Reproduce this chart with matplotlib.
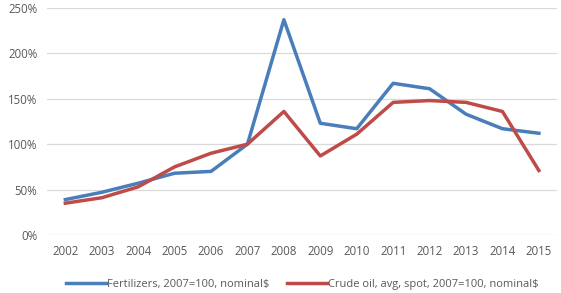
import matplotlib
matplotlib.use("Agg")
import matplotlib.pyplot as plt
import numpy as np

years = ["2002", "2003", "2004", "2005", "2006", "2007", "2008",
         "2009", "2010", "2011", "2012", "2013", "2014", "2015"]
fertilizers = [39, 47, 57, 68, 70, 100, 237, 123, 117, 167, 161, 133, 117, 112]
crude_oil = [35, 41, 53, 75, 90, 100, 136, 87, 111, 146, 148, 146, 136, 71]

plt.rcParams['font.family'] = ['Open Sans', 'DejaVu Sans']
text_color = "#595959"

fig = plt.figure(figsize=(5.61, 2.93), dpi=100)
ax = fig.add_axes([0.084, 0.198, 0.909, 0.775])

x = np.arange(len(years))
ax.plot(x, np.array(fertilizers) / 100, color="#4a7ebb", lw=2.5,
        label="Fertilizers, 2007=100, nominal$")
ax.plot(x, np.array(crude_oil) / 100, color="#be4b48", lw=2.5,
        label="Crude oil, avg, spot, 2007=100, nominal$")

ax.set_xlim(-0.5, len(years) - 0.5)
ax.set_ylim(0, 2.5)
ax.set_yticks(np.arange(0, 2.51, 0.5))
ax.set_yticklabels(["%d%%" % round(v * 100) for v in np.arange(0, 2.51, 0.5)])
ax.set_xticks(x)
ax.set_xticklabels(years)
ax.grid(axis="y", color="#d9d9d9", lw=0.9)
ax.set_axisbelow(True)
for s in ax.spines.values():
    s.set_visible(False)
ax.tick_params(length=0, colors=text_color, labelsize=8.3, pad=7)

ax.legend(loc="upper center", bbox_to_anchor=(0.5, -0.15), ncol=2, frameon=False,
          fontsize=8.0, labelcolor=text_color, handlelength=3.6, columnspacing=1.6,
          handletextpad=0.1)

fig.savefig("out.png", dpi=100)
